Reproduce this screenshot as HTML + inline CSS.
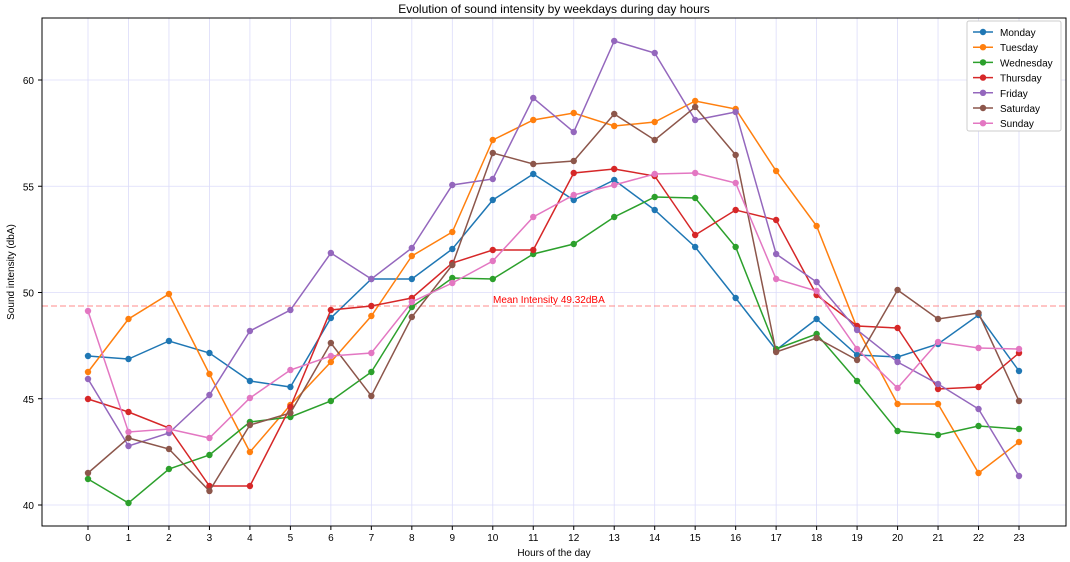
<!DOCTYPE html>
<html><head><meta charset="utf-8"><style>
html,body{margin:0;padding:0;background:#fff;}
svg{display:block;font-family:"Liberation Sans","DejaVu Sans",sans-serif;}
</style></head><body>
<svg id="s" width="1070" height="562" xmlns="http://www.w3.org/2000/svg">
<rect width="1070" height="562" fill="#fff"/>
<g id="grid"></g>
<line x1="42" y1="306" x2="1066" y2="306" stroke="#ff7f7f" stroke-opacity="0.6" stroke-width="1.5" stroke-dasharray="6,3"/>
<text x="493" y="303" font-size="10" fill="#ff0000">Mean Intensity 49.32dBA</text>
<g id="series"></g>
<rect x="42" y="18" width="1024" height="508" fill="none" stroke="#000" stroke-width="1"/>
<g id="ticks" font-size="10" fill="#000"></g>
<text x="554" y="13" font-size="12" text-anchor="middle">Evolution of sound intensity by weekdays during day hours</text>
<text x="554" y="556" font-size="10" text-anchor="middle">Hours of the day</text>
<text transform="translate(14,272) rotate(-90)" font-size="10" text-anchor="middle">Sound intensity (dbA)</text>
<g id="legend" font-size="10"></g>
</svg>
<script>
var NS="http://www.w3.org/2000/svg";
function el(t,a,p){var e=document.createElementNS(NS,t);for(var k in a)e.setAttribute(k,a[k]);p.appendChild(e);return e;}
var g=document.getElementById('grid'),tk=document.getElementById('ticks'),sr=document.getElementById('series'),lg=document.getElementById('legend');
function X(i){return 88+i*(1019-88)/23;}
for(var i=0;i<24;i++){var x=X(i);el('line',{x1:x,y1:18,x2:x,y2:526,stroke:'#dcdcfa','stroke-width':0.8},g);
el('line',{x1:x,y1:526,x2:x,y2:530,stroke:'#000'},tk);var t=el('text',{x:x,y:541,'text-anchor':'middle'},tk);t.textContent=i;}
[60,55,50,45,40].forEach(function(v){var y=80+(60-v)*21.25;el('line',{x1:42,y1:y,x2:1066,y2:y,stroke:'#dcdcfa','stroke-width':0.8},g);
el('line',{x1:38,y1:y,x2:42,y2:y,stroke:'#000'},tk);var t=el('text',{x:34,y:y+4,'text-anchor':'end'},tk);t.textContent=v;});
var S=[
['Monday','#1f77b4',[356,359,341,353,381,387,318,279,279,249,200,174,200,180,210,247,298,350,319,355,357,344,315,371]],
['Tuesday','#ff7f0e',[372,319,294,374,452,405,362,316,256,232,140,120,113,126,122,101,109,171,226,328,404,404,473,442]],
['Wednesday','#2ca02c',[479,503,469,455,422,417,401,372,307,278,279,254,244,217,197,198,247,349,334,381,431,435,426,429]],
['Thursday','#d62728',[399,412,428,486,486,407,310,306,298,263,250,250,173,169,176,235,210,220,295,326,328,389,387,353]],
['Friday','#9467bd',[379,446,433,395,331,310,253,279,248,185,179,98,132,41,53,120,112,254,282,330,362,384,409,476]],
['Saturday','#8c564b',[473,438,449,491,425,413,343,396,317,265,153,164,161,114,140,107,155,352,338,360,290,319,313,401]],
['Sunday','#e377c2',[311,432,429,438,398,370,356,353,302,283,261,217,195,185,174,173,183,279,291,349,388,342,348,349]]];
el('rect',{x:967,y:21,width:94,height:110,fill:'#fff',stroke:'#ccc',rx:2},lg);
S.forEach(function(s,k){var pts=s[2].map(function(y,i){return X(i)+','+y;}).join(' ');
el('polyline',{points:pts,fill:'none',stroke:s[1],'stroke-width':1.5},sr);
s[2].forEach(function(y,i){el('circle',{cx:X(i),cy:y,r:3.2,fill:s[1]},sr);});
var ly=32+k*15.2;el('line',{x1:973,y1:ly,x2:993,y2:ly,stroke:s[1],'stroke-width':1.5},lg);el('circle',{cx:983,cy:ly,r:3.2,fill:s[1]},lg);
var t=el('text',{x:1000,y:ly+4},lg);t.textContent=s[0];});
</script>
</body></html>
